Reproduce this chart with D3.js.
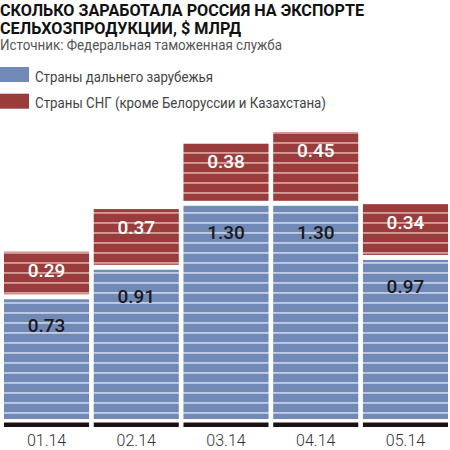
<!DOCTYPE html>
<html><head><meta charset="utf-8">
<script src="https://cdn.jsdelivr.net/npm/d3@7"></script>
<style>body{margin:0;background:#fff}svg{display:block}</style>
</head><body>
<script>
const categories = ["01.14","02.14","03.14","04.14","05.14"];
const farAbroad = [0.73,0.91,1.30,1.30,0.97];
const cis = [0.29,0.37,0.38,0.45,0.34];
const seriesNames = ["Страны дальнего зарубежья","Страны СНГ (кроме Белоруссии и Казахстана)"];
const titleLines = ["СКОЛЬКО ЗАРАБОТАЛА РОССИЯ НА ЭКСПОРТЕ","СЕЛЬХОЗПРОДУКЦИИ, $ МЛРД"];
const source = "Источник: Федеральная таможенная служба";

const W=450,H=450;
const blue="#7189b6", red="#9a3c3b";
const svg=d3.select("body").append("svg").attr("width",W).attr("height",H);
const defs=svg.append("defs");
[["pb",blue,"#d2dcee"],["pr",red,"#e2b3b0"]].forEach(([id,c,l])=>{
  const p=defs.append("pattern").attr("id",id).attr("patternUnits","userSpaceOnUse")
    .attr("width",10).attr("height",10);
  p.append("rect").attr("width",10).attr("height",10).attr("fill",c);
  p.append("rect").attr("y",2.2).attr("width",10).attr("height",1.5).attr("fill",l);
});

svg.selectAll("text.title").data(titleLines).enter().append("text")
  .attr("x",0).attr("y",(d,i)=>16+i*17.5)
  .attr("font-family","Roboto, sans-serif").attr("font-weight",700).attr("font-size",16.5)
  .attr("fill","#111")
  .attr("textLength",(d,i)=>i===0?364:241).attr("lengthAdjust","spacingAndGlyphs")
  .text(d=>d);
svg.append("text").attr("x",0).attr("y",50).attr("font-family","Roboto, sans-serif")
  .attr("font-size",14).attr("fill","#555").attr("textLength",282).attr("lengthAdjust","spacingAndGlyphs")
  .text(source);

const lg=svg.append("g");
seriesNames.forEach((n,i)=>{
  lg.append("rect").attr("x",0).attr("y",67+i*26.7).attr("width",29).attr("height",15).attr("fill",i?red:blue);
  lg.append("text").attr("x",35).attr("y",81.5+i*26).attr("font-family","Roboto, sans-serif")
    .attr("font-size",14).attr("fill","#444").attr("textLength",i?291:178).attr("lengthAdjust","spacingAndGlyphs").text(n);
});

const x=d3.scaleBand().domain(categories).range([4,448]).paddingInner(0.052).paddingOuter(0);
const y=d3.scaleLinear().domain([0,1]).range([419,255]);
const gap=5;

const g=svg.append("g");
categories.forEach((c,i)=>{
  const x0=x(c), bw=x.bandwidth();
  const b=farAbroad[i], r=cis[i];
  g.append("rect").attr("x",x0).attr("y",y(b)).attr("width",bw).attr("height",y(0)-y(b)).attr("fill","url(#pb)");
  g.append("rect").attr("x",x0).attr("y",y(b+r)).attr("width",bw).attr("height",y(b)-gap-y(b+r)).attr("fill","url(#pr)");
  g.append("text").attr("x",x0+bw/2).attr("y",y(b+r)+25).attr("text-anchor","middle")
    .attr("font-family","Roboto, sans-serif").attr("font-weight",500).attr("font-size",19).attr("fill","#fff")
    .text(r.toFixed(2));
  g.append("text").attr("x",x0+bw/2).attr("y",y(b)+33).attr("text-anchor","middle")
    .attr("font-family","Roboto, sans-serif").attr("font-weight",500).attr("font-size",19).attr("fill","#1a1a1a")
    .text(b.toFixed(2));
  g.append("rect").attr("x",x0).attr("y",422.5).attr("width",bw).attr("height",4.5).attr("fill","#1a1212");
});

const ax=svg.append("g").attr("transform","translate(0,446)")
  .call(d3.axisBottom(x).tickSize(0).tickPadding(0));
ax.select(".domain").remove();
ax.selectAll("text").attr("font-family","Roboto, sans-serif").attr("font-size",16).attr("font-weight",300)
  .attr("fill","#333").attr("dy","0");
</script>
</body></html>
